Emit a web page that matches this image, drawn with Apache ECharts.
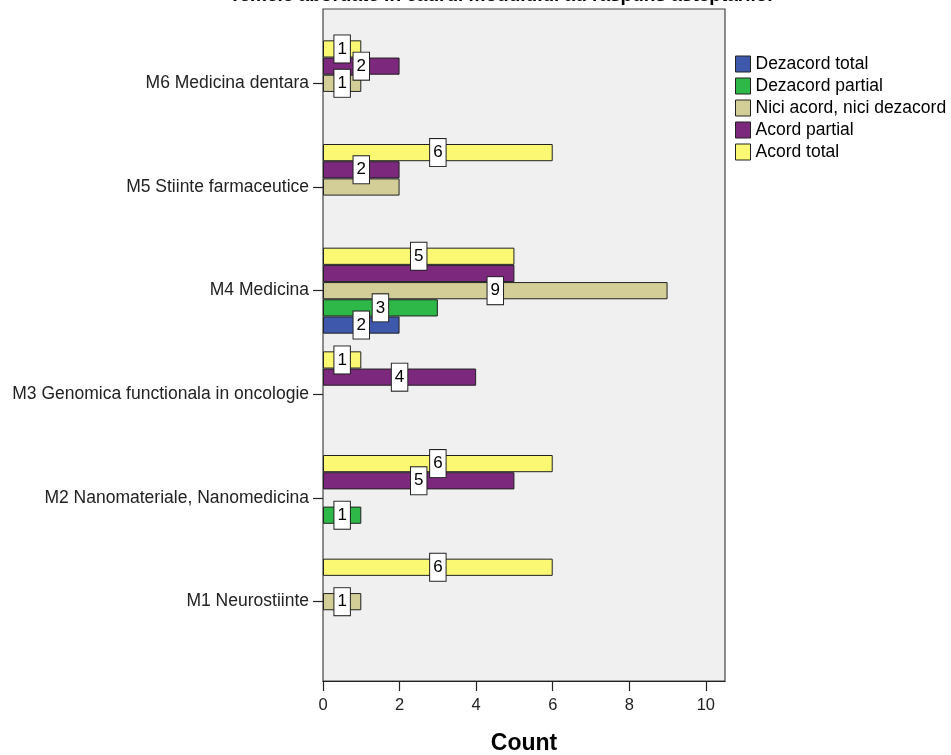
<!DOCTYPE html>
<html>
<head>
<meta charset="utf-8">
<script src="https://cdn.jsdelivr.net/npm/echarts@6/dist/echarts.min.js"></script>
<style>
html,body{margin:0;padding:0;background:#fff;}
#chart{width:951px;height:755px;}
</style>
</head>
<body>
<div id="chart"></div>
<script>
var titleText = 'Temele abordate in cadrul modulului au raspuns asteptarilor';
var categories = ['M1 Neurostiinte', 'M2 Nanomateriale, Nanomedicina', 'M3 Genomica functionala in oncologie', 'M4 Medicina', 'M5 Stiinte farmaceutice', 'M6 Medicina dentara'];
var seriesNames = ['Dezacord total', 'Dezacord partial', 'Nici acord, nici dezacord', 'Acord partial', 'Acord total'];
var dezacordTotal   = [null, null, null, 2, null, null];
var dezacordPartial = [null, 1, null, 3, null, null];
var niciAcord       = [1, null, null, 9, 2, 1];
var acordPartial    = [null, 5, 4, 5, 2, 2];
var acordTotal      = [6, 6, 1, 5, 6, 1];
var xTicks = [0, 2, 4, 6, 8, 10];
// labels hidden in the original (overlapping): [seriesIndex, categoryIndex]
var hiddenLabels = [[2, 4], [3, 3]];
var colors = ['#3E58AC', '#2EB848', '#D3CE97', '#7C287D', '#FBF873'];

var allValues = [dezacordTotal, dezacordPartial, niciAcord, acordPartial, acordTotal];
var FONT = 'Liberation Sans, Arial, sans-serif';

function isHidden(s, c) {
  for (var i = 0; i < hiddenLabels.length; i++) {
    if (hiddenLabels[i][0] === s && hiddenLabels[i][1] === c) return true;
  }
  return false;
}

var series = allValues.map(function (vals, s) {
  return {
    name: seriesNames[s],
    type: 'bar',
    xAxisIndex: 1,
    yAxisIndex: 1,
    barWidth: 17.2,
    barGap: '0%',
    itemStyle: { color: colors[s], borderColor: '#222', borderWidth: 1 },
    label: {
      show: true,
      position: 'inside',
      formatter: '{c}',
      fontFamily: FONT,
      fontSize: 17,
      color: '#000',
      backgroundColor: '#fff',
      borderColor: '#222',
      borderWidth: 1,
      padding: [5, 3, 5, 3]
    },
    data: vals.map(function (v, c) {
      if (v === null) return null;
      return isHidden(s, c) ? { value: v, label: { show: false } } : v;
    })
  };
}).reverse();

var chart = echarts.init(document.getElementById('chart'));
chart.setOption({
  animation: false,
  backgroundColor: '#fff',
  title: {
    text: titleText,
    left: 497,
    textAlign: 'center',
    top: -19,
    textStyle: { fontFamily: FONT, fontSize: 19, fontWeight: 'bold', color: '#000' }
  },
  legend: {
    orient: 'vertical',
    left: 730,
    top: 50,
    itemWidth: 15,
    itemHeight: 16,
    itemGap: 4,
    icon: 'rect',
    data: seriesNames,
    itemStyle: { borderColor: '#222', borderWidth: 1 },
    textStyle: { fontFamily: FONT, fontSize: 17.5, lineHeight: 17, color: '#000' }
  },
  grid: [
    { left: 323, right: 226, top: 9, bottom: 74, show: true, backgroundColor: '#F0F0F0', borderColor: '#444', borderWidth: 1.2, containLabel: false, outerBoundsMode: 'none' },
    { left: 323, right: 226, top: 31.5, bottom: 101.5, containLabel: false, outerBoundsMode: 'none' }
  ],
  xAxis: [
    {
      type: 'value', gridIndex: 0, min: 0, max: 10.5,
      axisLine: { show: true, lineStyle: { color: '#222', width: 1.2 } },
      axisTick: { show: true, length: 10, customValues: xTicks, lineStyle: { color: '#222', width: 1.2 } },
      axisLabel: { customValues: xTicks, fontFamily: FONT, fontSize: 16.5, color: '#222', margin: 16 },
      splitLine: { show: false },
      name: 'Count',
      nameLocation: 'middle',
      nameGap: 51,
      nameTextStyle: { fontFamily: FONT, fontSize: 23, fontWeight: 'bold', color: '#000' }
    },
    { type: 'value', gridIndex: 1, min: 0, max: 10.5, show: false }
  ],
  yAxis: [
    { type: 'value', gridIndex: 0, show: false },
    {
      type: 'category', gridIndex: 1, data: categories,
      axisLine: { show: false },
      axisTick: { show: true, alignWithLabel: true, length: 10, lineStyle: { color: '#222', width: 1.2 } },
      axisLabel: { fontFamily: FONT, fontSize: 17.5, color: '#222', margin: 14 },
      splitLine: { show: false }
    }
  ],
  series: series
});
</script>
</body>
</html>
